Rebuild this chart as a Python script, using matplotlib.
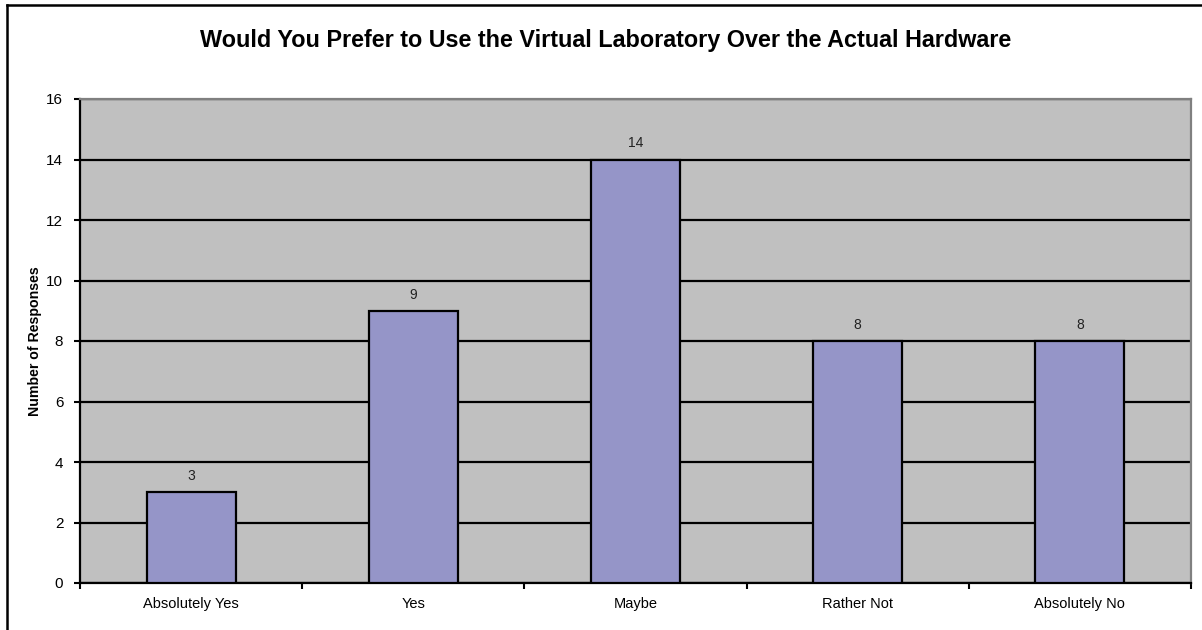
import numpy as np
import matplotlib.pyplot as plt
from matplotlib.lines import Line2D

# dados da pesquisa
categorias = ['Absolutely Yes', 'Yes', 'Maybe', 'Rather Not', 'Absolutely No']
respostas = [3, 9, 14, 8, 8]
y_ticks = [0, 2, 4, 6, 8, 10, 12, 14, 16]

plt.rcParams['font.family'] = ['Liberation Sans', 'DejaVu Sans']

fig = plt.figure(figsize=(12.02, 6.3), dpi=100)
ax = fig.add_axes([80 / 1202, 1 - 583 / 630, (1191 - 80) / 1202, (583 - 99) / 630])

x = np.arange(len(categorias))
ax.set_facecolor('#C0C0C0')
ax.set_axisbelow(True)
ax.yaxis.grid(True, color='black', linewidth=1.6)
barras = ax.bar(x, respostas, width=0.4, color='#9595C8', edgecolor='black', linewidth=1.6, zorder=3)

for xi, v in zip(x, respostas):
    ax.text(xi, v + 0.3, str(v), ha='center', va='bottom', fontsize=10, color='#222222')

ax.set_xlim(-0.5, len(categorias) - 0.5)
ax.set_ylim(0, 16)
ax.set_yticks(y_ticks)
ax.set_yticklabels([str(t) for t in y_ticks], fontsize=11)

# ticks do eixo x entre as categorias
ax.set_xticks(np.arange(-0.5, len(categorias), 1.0))
ax.set_xticklabels([])
ax.set_xticks(x, minor=True)
ax.set_xticklabels(categorias, minor=True, fontsize=10.5)
ax.tick_params(axis='x', which='minor', length=0, pad=10)
ax.tick_params(axis='x', which='major', length=4, width=1.5, direction='out')
ax.tick_params(axis='y', length=4, width=1.5, direction='out', pad=8)

for lado in ['left', 'bottom']:
    ax.spines[lado].set_color('black')
    ax.spines[lado].set_linewidth(1.6)
for lado in ['top', 'right']:
    ax.spines[lado].set_color('#808080')
    ax.spines[lado].set_linewidth(1.6)

ax.set_ylabel('Number of Responses', fontsize=10.2, fontweight='bold', labelpad=3)

fig.text(606 / 1202, 1 - 41 / 630, 'Would You Prefer to Use the Virtual Laboratory Over the Actual Hardware',
         ha='center', va='center', fontsize=16.8, fontweight='bold')

# borda da figura (so topo e esquerda aparecem)
fig.add_artist(Line2D([7 / 1202, 1], [1 - 5 / 630, 1 - 5 / 630], color='black', linewidth=1.8, transform=fig.transFigure))
fig.add_artist(Line2D([7 / 1202, 7 / 1202], [0, 1 - 5 / 630], color='black', linewidth=1.8, transform=fig.transFigure))

fig.savefig('out.png', dpi=100)
